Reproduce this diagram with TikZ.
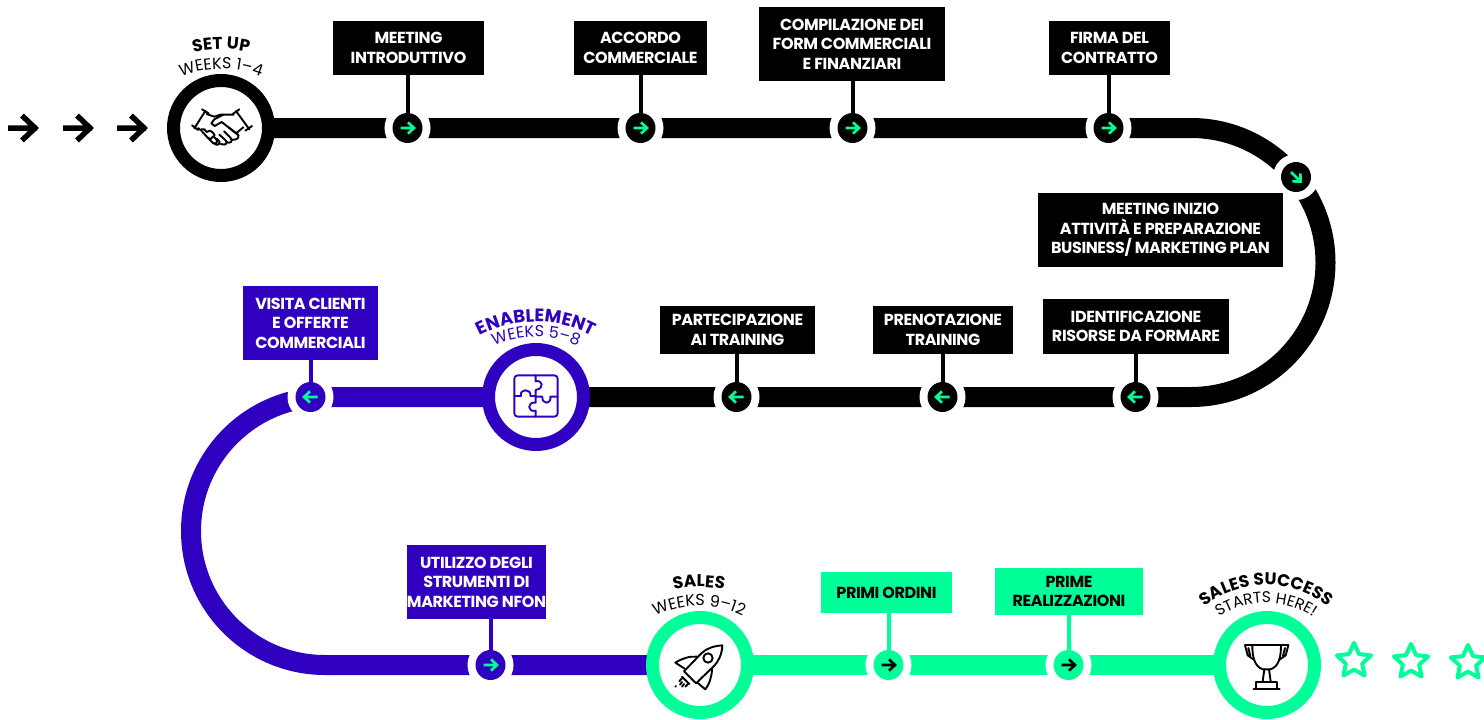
\documentclass[tikz,border=0pt]{standalone}
\usepackage{fontspec}
\setmainfont{Poppins}
\usetikzlibrary{backgrounds,decorations.text,shapes.geometric,calc}
\definecolor{nblue}{HTML}{3000C0}
\definecolor{ngreen}{HTML}{00FF99}
\newcommand{\lbl}{\bfseries\fontsize{16}{19.5}\selectfont\addfontfeature{LetterSpace=-2.5}}
\newcommand{\arctext}[6]{\path[decorate,decoration={text along path,text align=center,text={|\color{#4}#5|#6}}] (#1,#2) ++(0,#3) ++(210:#3) arc[start angle=210,end angle=330,radius=#3];}
\newcommand{\headf}{\bfseries\fontsize{17}{17}\selectfont}
\newcommand{\headl}{\bfseries\fontsize{18}{18}\selectfont}
\newcommand{\subf}{\fontsize{16}{16}\selectfont}
\newcommand{\subs}{\fontsize{15.5}{15.5}\selectfont}
\newcommand{\marrow}[3]{\draw[#3,line width=2.6pt,shift={(#1)},rotate=#2] (-7,0) -- (6.5,0) (0.5,-5.7) -- (6.5,0) -- (0.5,5.7);}
\tikzset{
 boxb/.style={rectangle,fill=black,text=white,inner sep=0pt,outer sep=0pt,align=center,font=\lbl},
 boxn/.style={boxb,fill=nblue},
 boxg/.style={boxb,fill=ngreen,text=black},
 hub/.style={circle,draw=#1,fill=white,line width=13pt,minimum size=95pt,inner sep=0pt,outer sep=0pt},
 mark0/.style={circle,fill=#1,minimum size=30pt,inner sep=0pt,outer sep=0pt},
 track/.style={draw=#1,line width=20pt},
 stem/.style={draw=#1,line width=4pt},
 halo/.style={fill=white},
 icon/.style={line width=1.9pt,line cap=round,line join=round},
 bigarrow/.style={line width=5.5pt},
 starry/.style={star,star points=5,star point ratio=2.1,draw=ngreen,line width=4pt,line join=round,fill=white,minimum size=36pt,inner sep=0pt,outer sep=0pt}
}
\begin{document}
\begin{tikzpicture}[x=1pt,y=-1pt]
\useasboundingbox (0,0) rectangle (1484,720);
% hubs
\node[hub=black] (setup) at (221,128) {};
\node[hub=nblue] (enable) at (536,397) {};
\node[hub=ngreen] (sales) at (700,665) {};
\node[hub=ngreen] (success) at (1267,665) {};
% boxes
\node[boxb,minimum width=151pt,minimum height=54pt] (b1) at (408.5,48) {MEETING\\INTRODUTTIVO};
\node[boxb,minimum width=133pt,minimum height=54pt] (b2) at (640.5,48) {ACCORDO\\COMMERCIALE};
\node[boxb,minimum width=186pt,minimum height=74pt] (b3) at (852,44) {COMPILAZIONE DEI\\FORM COMMERCIALI\\E FINANZIARI};
\node[boxb,minimum width=121pt,minimum height=54pt] (b4) at (1109.5,48) {FIRMA DEL\\CONTRATTO};
\node[boxb,minimum width=245pt,minimum height=74pt] (b5) at (1160.5,230) {MEETING INIZIO\\ATTIVITÀ E PREPARAZIONE\\BUSINESS/ MARKETING PLAN};
\node[boxb,minimum width=186pt,minimum height=55pt] (b6) at (1136,326.5) {IDENTIFICAZIONE\\RISORSE DA FORMARE};
\node[boxb,minimum width=140pt,minimum height=48pt] (b7) at (943,330) {PRENOTAZIONE\\TRAINING};
\node[boxb,minimum width=155pt,minimum height=48pt] (b8) at (737.5,330) {PARTECIPAZIONE\\AI TRAINING};
\node[boxn,minimum width=135pt,minimum height=74pt] (b9) at (310.5,323) {VISITA CLIENTI\\E OFFERTE\\COMMERCIALI};
\node[boxn,minimum width=135pt,minimum height=74pt] (b10) at (476.5,582) {UTILIZZO DEGLI\\STRUMENTI DI\\MARKETING NFON};
\node[boxg,minimum width=131pt,minimum height=41pt] (b11) at (886.5,592.5) {PRIMI ORDINI};
\node[boxg,minimum width=148pt,minimum height=47pt] (b12) at (1069,591.5) {PRIME\\REALIZZAZIONI};
% markers
\node[mark0=black] (m1) at (407.5,128) {};
\node[mark0=black] (m2) at (640.5,128) {};
\node[mark0=black] (m3) at (852.5,128) {};
\node[mark0=black] (m4) at (1108.5,128) {};
\node[mark0=black] (m5) at (1296,177) {};
\node[mark0=black] (m6) at (1135.5,397) {};
\node[mark0=black] (m7) at (942.5,397) {};
\node[mark0=black] (m8) at (736.5,397) {};
\node[mark0=nblue] (m9) at (310.5,397) {};
\node[mark0=nblue] (m10) at (490.5,665) {};
\node[mark0=ngreen] (m11) at (888.5,665) {};
\node[mark0=ngreen] (m12) at (1068.5,665) {};
\coordinate (c1) at (1191,128);
\coordinate (c2) at (325,397);
\begin{scope}[on background layer]
\fill[white] (0,0) rectangle (1484,720);
\path[track=black] (setup.center) -- (c1) arc[start angle=-90,end angle=90,radius=134.5] -- (enable.center);
\path[track=nblue] (enable.center) -- (c2) arc[start angle=-90,end angle=-270,radius=134] -- (sales.center);
\path[track=ngreen] (sales.center) -- (success.center);
\foreach \m in {m1,m2,m3,m4,m5,m6,m7,m8,m9,m10,m11,m12} \fill[halo] (\m) circle (23);
\path[stem=black] (m1 |- b1.south) -- (m1);
\path[stem=black] (m2 |- b2.south) -- (m2);
\path[stem=black] (m3 |- b3.south) -- (m3);
\path[stem=black] (m4 |- b4.south) -- (m4);
\path[stem=black] (m6 |- b6.south) -- (m6);
\path[stem=black] (m7 |- b7.south) -- (m7);
\path[stem=black] (m8 |- b8.south) -- (m8);
\path[stem=nblue] (m9 |- b9.south) -- (m9);
\path[stem=nblue] (m10 |- b10.south) -- (m10);
\path[stem=ngreen] (m11 |- b11.south) -- (m11);
\path[stem=ngreen] (m12 |- b12.south) -- (m12);
\end{scope}
% marker arrows
\marrow{m1}{0}{ngreen}\marrow{m2}{0}{ngreen}\marrow{m3}{0}{ngreen}\marrow{m4}{0}{ngreen}
\marrow{m5}{-45}{ngreen}
\marrow{m6}{180}{ngreen}\marrow{m7}{180}{ngreen}\marrow{m8}{180}{ngreen}\marrow{m9}{180}{ngreen}
\marrow{m10}{0}{ngreen}
\marrow{m11}{0}{black}\marrow{m12}{0}{black}
% free arrows
\draw[bigarrow] (8,128) -- (37,128) (22,115.5) -- (35,128) -- (22,140.5);
\draw[bigarrow] (63,128) -- (92,128) (77,115.5) -- (90,128) -- (77,140.5);
\draw[bigarrow] (117,128) -- (146,128) (131,115.5) -- (144,128) -- (131,140.5);
% stars
\node[starry] at (1354,661) {};
\node[starry] at (1411,662) {};
\node[starry] at (1468,663) {};
% curved headings
\arctext{221}{49}{120}{black}{\headf}{SET UP}
\arctext{221}{69}{110}{black}{\subf}{WEEKS 1–4}
\arctext{536}{322}{120}{nblue}{\headl}{ENABLEMENT}
\arctext{536}{337}{105}{nblue}{\subf}{WEEKS 5–8}
\arctext{699}{587}{120}{black}{\headf}{SALES}
\arctext{699}{606}{100}{black}{\subf}{WEEKS 9–12}
\arctext{1266}{585}{100}{black}{\headf}{SALES SUCCESS}
\arctext{1266}{603}{86}{black}{\subs}{STARTS HERE!}
% handshake
\begin{scope}[shift={(186,100)},scale=1/3,icon]
\draw (58,33) -- (25,85) (48,28) -- (68,40) (18,76) -- (36,90);
\draw (150,33) -- (190,88) (140,42) -- (160,28) (178,92) -- (198,78);
\draw (62,42) -- (85,50) -- (103,44) -- (143,44);
\draw (112,44) -- (85,58) -- (76,70) -- (86,78) -- (107,66) -- (158,106);
\draw (172,82) -- (150,100);
\draw (36,84) -- (46,92);
\draw (46,88) .. controls (52,84) and (60,90) .. (62,96) -- (72,92) .. controls (78,94) and (84,100) .. (86,106);
\draw (48,94) -- (66,114) .. controls (72,120) and (80,116) .. (80,110);
\draw (64,112) -- (82,130) .. controls (88,134) and (96,128) .. (92,120) -- (82,108);
\draw (84,130) .. controls (92,138) and (104,134) .. (100,124) -- (92,116);
\draw (104,132) .. controls (120,138) and (128,128) .. (118,120) -- (100,104);
\draw (120,126) .. controls (134,132) and (142,124) .. (134,114) -- (114,94);
\draw (134,118) .. controls (148,122) and (162,116) .. (156,104) -- (128,82);
\end{scope}
% puzzle
\begin{scope}[shift={(505,366)},scale=1/3,icon,draw=nblue]
\draw (92,28) -- (38,28) .. controls (32,28) and (28,32) .. (28,38) -- (28,142) .. controls (28,148) and (32,152) .. (38,152) -- (92,152);
\draw (92,28) -- (148,28) .. controls (154,28) and (158,32) .. (158,38) -- (158,142) .. controls (158,148) and (154,152) .. (148,152) -- (92,152);
\draw (92,28) -- (92,46) .. controls (110,40) and (122,66) .. (92,72) -- (92,92);
\draw (28,90) -- (48,90) .. controls (42,68) and (80,66) .. (76,90) -- (92,90);
\draw (94,92) -- (112,92) .. controls (110,116) and (140,116) .. (136,92) -- (158,92);
\draw (92,92) -- (92,110) .. controls (66,106) and (66,140) .. (92,134) -- (92,152);
\end{scope}
% rocket
\begin{scope}[shift={(668,636)},scale=1/3,icon]
\draw (163,28) .. controls (135,30) and (115,38) .. (100,52) -- (48,106) -- (84,142) -- (140,88) .. controls (152,74) and (162,55) .. (163,28);
\draw (86,62) .. controls (65,60) and (40,68) .. (22,80) -- (50,98);
\draw (132,98) .. controls (132,120) and (124,145) .. (112,160) -- (88,140);
\draw (120,66) circle[radius=14];
\draw (42,122) -- (64,144) (44,124) -- (34,136) (62,142) -- (52,152);
\draw (42,138) -- (36,146) (22,152) -- (24,150) (48,144) -- (42,152);
\end{scope}
% trophy
\begin{scope}[shift={(1235,636)},scale=1/3,icon]
\draw (30,28) -- (160,28);
\draw (52,28) .. controls (52,62) and (58,92) .. (84,100) -- (106,100) .. controls (132,92) and (138,62) .. (138,28);
\draw (30,28) -- (38,58) -- (58,72) (40,36) -- (46,60);
\draw (160,28) -- (152,58) -- (132,72) (150,36) -- (144,60);
\draw (88,100) -- (83,136) (102,100) -- (107,136);
\draw (64,158) -- (64,138) -- (126,138) -- (126,158);
\draw[line width=2pt] (56,158) -- (134,158);
\end{scope}
\end{tikzpicture}
\end{document}
